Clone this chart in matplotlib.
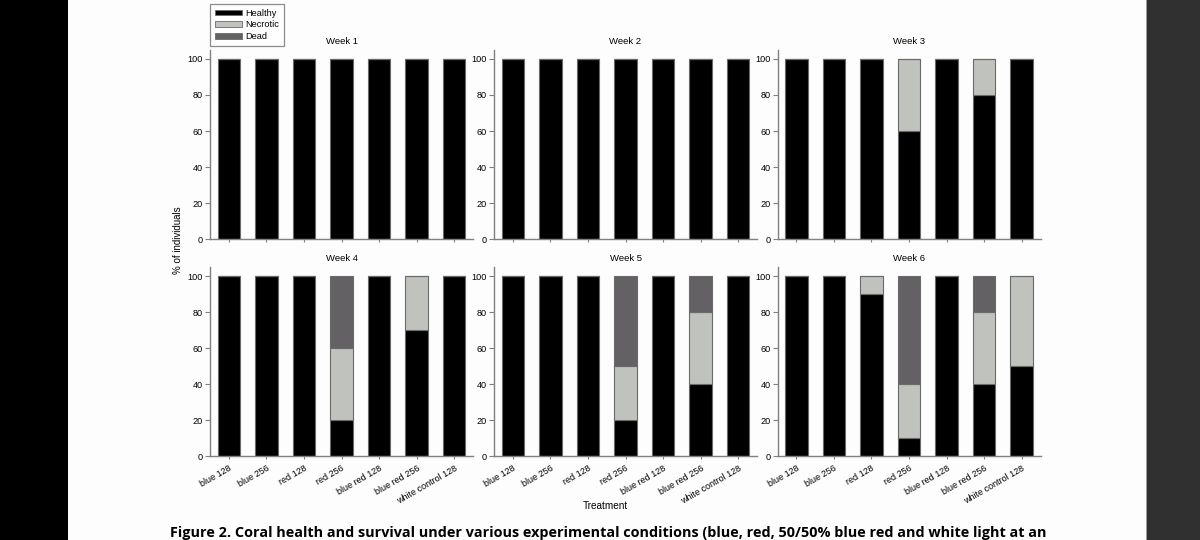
import numpy as np
import matplotlib.pyplot as plt
from matplotlib.patches import Patch, Rectangle

plt.rcParams['font.family'] = ['Liberation Sans', 'DejaVu Sans']

# === Data ===
treatments = ['blue 128', 'blue 256', 'red 128', 'red 256',
              'blue red 128', 'blue red 256', 'white control 128']
weeks = ['Week 1', 'Week 2', 'Week 3', 'Week 4', 'Week 5', 'Week 6']

healthy = [
    [100, 100, 100, 100, 100, 100, 100],
    [100, 100, 100, 100, 100, 100, 100],
    [100, 100, 100, 60, 100, 80, 100],
    [100, 100, 100, 20, 100, 70, 100],
    [100, 100, 100, 20, 100, 40, 100],
    [100, 100, 90, 10, 100, 40, 50],
]
necrotic = [
    [0, 0, 0, 0, 0, 0, 0],
    [0, 0, 0, 0, 0, 0, 0],
    [0, 0, 0, 40, 0, 20, 0],
    [0, 0, 0, 40, 0, 30, 0],
    [0, 0, 0, 30, 0, 40, 0],
    [0, 0, 10, 30, 0, 40, 50],
]
dead = [
    [0, 0, 0, 0, 0, 0, 0],
    [0, 0, 0, 0, 0, 0, 0],
    [0, 0, 0, 0, 0, 0, 0],
    [0, 0, 0, 40, 0, 0, 0],
    [0, 0, 0, 50, 0, 20, 0],
    [0, 0, 0, 60, 0, 20, 0],
]

col_healthy = '#000000'
col_necrotic = '#bfc2bd'
col_dead = '#636163'
axis_gray = '#808080'

fig = plt.figure(figsize=(12, 5.4), dpi=100)
fig.patch.set_facecolor('#fdfdfd')

# page surroundings (black strip left, dark viewer strip right)
fig.patches.append(Rectangle((0, 0), 68 / 1200, 1, transform=fig.transFigure,
                             facecolor='black', edgecolor='none', zorder=0))
fig.patches.append(Rectangle((1146 / 1200, 0), 1 / 1200, 1, transform=fig.transFigure,
                             facecolor='#9a9a9a', edgecolor='none', zorder=0))
fig.patches.append(Rectangle((1147 / 1200, 0), 53 / 1200, 1, transform=fig.transFigure,
                             facecolor='#303030', edgecolor='none', zorder=0))

lefts = [210 / 1200, 494 / 1200, 777.5 / 1200]
bottoms = [1 - 239 / 540, 1 - 456 / 540]
w = 263 / 1200
h = 189 / 540

x = np.arange(len(treatments))
for i, wk in enumerate(weeks):
    r, c = divmod(i, 3)
    ax = fig.add_axes([lefts[c], bottoms[r], w, h])
    ax.set_facecolor('none')
    hv = np.array(healthy[i])
    nv = np.array(necrotic[i])
    dv = np.array(dead[i])
    kw = dict(width=0.6, edgecolor='#6a6a6a', linewidth=0.8)
    ax.bar(x, hv, color=col_healthy, **kw)
    ax.bar(x, nv, bottom=hv, color=col_necrotic, **kw)
    ax.bar(x, dv, bottom=hv + nv, color=col_dead, **kw)
    ax.set_xlim(-0.5, 6.5)
    ax.set_ylim(0, 105)
    ax.set_yticks([0, 20, 40, 60, 80, 100])
    ax.set_xticks(x)
    if r == 1:
        ax.set_xticklabels(treatments, rotation=30, ha='right',
                           rotation_mode='anchor', fontsize=6.5)
    else:
        ax.set_xticklabels([])
    ax.tick_params(axis='y', labelsize=6.6, length=3.5, width=0.8,
                   color=axis_gray, pad=1.5)
    ax.tick_params(axis='x', length=2.5, width=0.8, color=axis_gray, pad=3)
    for s in ['top', 'right']:
        ax.spines[s].set_visible(False)
    for s in ['left', 'bottom']:
        ax.spines[s].set_color(axis_gray)
        ax.spines[s].set_linewidth(1.0)
    ax.set_title(wk, fontsize=6.8, pad=4)

fig.text(178 / 1200, 1 - 240 / 540, '% of individuals', rotation=90,
         ha='center', va='center', fontsize=7)
fig.text(605 / 1200, 1 - 506 / 540, 'Treatment', ha='center', va='center',
         fontsize=7.2)

handles = [Patch(facecolor=col_healthy, edgecolor='#6a6a6a', linewidth=0.6),
           Patch(facecolor=col_necrotic, edgecolor='#6a6a6a', linewidth=0.6),
           Patch(facecolor=col_dead, edgecolor='#6a6a6a', linewidth=0.6)]
leg = fig.legend(handles, ['Healthy', 'Necrotic', 'Dead'],
                 loc='upper left', bbox_to_anchor=(210 / 1200, 1 - 4 / 540),
                 fontsize=6.6, frameon=True, fancybox=False,
                 handlelength=3.0, handleheight=0.55, handletextpad=0.4,
                 labelspacing=0.3, borderpad=0.5, borderaxespad=0)
leg.get_frame().set_edgecolor('#707070')
leg.get_frame().set_linewidth(0.9)

fig.text(170 / 1200, 1 - 537 / 540,
         'Figure 2. Coral health and survival under various experimental conditions '
         '(blue, red, 50/50% blue red and white light at an',
         ha='left', va='baseline', fontsize=10.4, fontweight='bold',
         family=['Open Sans', 'DejaVu Sans'])

fig.savefig('out.png', dpi=100, facecolor=fig.get_facecolor())
